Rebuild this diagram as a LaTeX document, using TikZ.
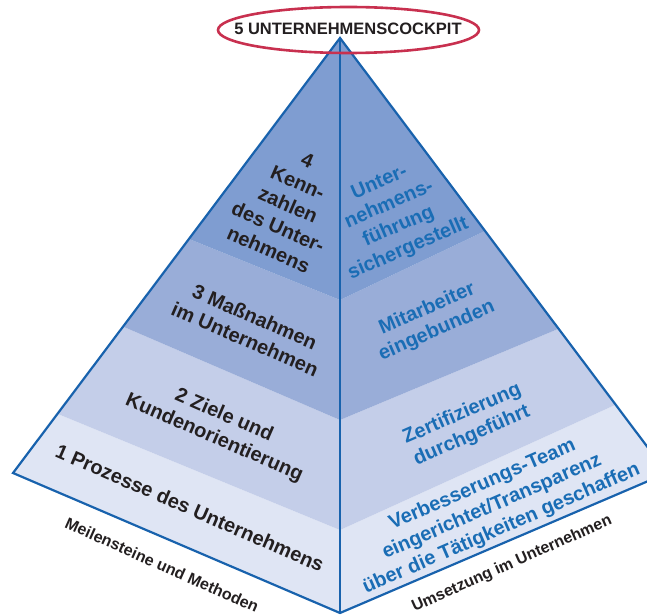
\documentclass[tikz,border=0pt]{standalone}
\usepackage{fontspec}
\setmainfont{Liberation Sans}
\definecolor{edgeblue}{HTML}{1862AD}
\definecolor{txtblue}{HTML}{1A6DB5}
\definecolor{txtdark}{HTML}{231F20}
\definecolor{bandA}{HTML}{DFE5F4}
\definecolor{bandB}{HTML}{C4CEE9}
\definecolor{bandC}{HTML}{99ADD8}
\definecolor{bandD}{HTML}{7F9DD1}
\definecolor{ringred}{HTML}{C8304F}
\begin{document}
\begin{tikzpicture}[x=1pt,y=-1pt,
  lefttxt/.style={text=txtdark,font=\bfseries\fontsize{20}{24.5}\selectfont,align=center,inner sep=0pt,rotate=-23.5},
  righttxt/.style={text=txtblue,font=\bfseries\fontsize{20}{24}\selectfont,align=center,inner sep=0pt,rotate=23.5},
  basetxt/.style={text=txtdark,font=\bfseries\fontsize{16}{19}\selectfont,inner sep=0pt},
  outline/.style={draw=edgeblue,line width=2.2pt,line join=miter}]
\useasboundingbox (0,0) rectangle (647,615);
\coordinate (A) at (340,38);
\coordinate (L) at (13,473);
\coordinate (R) at (667,473);
\coordinate (B) at (340,613);
\coordinate (C1) at (340,530);
\coordinate (C2) at (340,420);
\coordinate (C3) at (340,300);
\coordinate (L1) at (58,414);
\coordinate (L2) at (124,327);
\coordinate (L3) at (189,239);
\coordinate (R1) at (615,405);
\coordinate (R2) at (558,329);
\coordinate (R3) at (485,231);
\begin{scope}
\clip (0,0) rectangle (647,615);
\fill[bandA] (L) -- (B) -- (C1) -- (L1) -- cycle;
\fill[bandB] (L1) -- (C1) -- (C2) -- (L2) -- cycle;
\fill[bandC] (L2) -- (C2) -- (C3) -- (L3) -- cycle;
\fill[bandD] (L3) -- (C3) -- (A) -- cycle;
\fill[bandA] (R) -- (B) -- (C1) -- (R1) -- cycle;
\fill[bandB] (R1) -- (C1) -- (C2) -- (R2) -- cycle;
\fill[bandC] (R2) -- (C2) -- (C3) -- (R3) -- cycle;
\fill[bandD] (R3) -- (C3) -- (A) -- cycle;
\draw[outline] (A) -- (L) -- (B) -- (R) -- cycle;
\draw[outline] (A) -- (B);
\end{scope}
\node[lefttxt] (t1) at (190,508) {1 Prozesse des Unternehmens};
\node[lefttxt] (t2) at (219,427) {2 Ziele und\\Kundenorientierung};
\node[lefttxt] (t3) at (250,328) {3 Maßnahmen\\im Unternehmen};
\node[lefttxt] (t4) at (288,205) {4\\Kenn-\\zahlen\\des Unter-\\nehmens};
\node[righttxt] (r4) at (394,216) {Unter-\\nehmens-\\führung\\sichergestellt};
\node[righttxt] (r3) at (432,320) {Mitarbeiter\\eingebunden};
\node[righttxt] (r2) at (467,425) {Zertifizierung\\durchgeführt};
\node[righttxt] (r1) at (492,507) {Verbesserungs-Team\\eingerichtet/Transparenz\\über die Tätigkeiten geschaffen};
\node[basetxt,rotate=-24] (bl) at (162,565) {Meilensteine und Methoden};
\node[basetxt,rotate=24] (br) at (512,564) {Umsetzung im Unternehmen};
\node[text=txtdark,font=\bfseries\fontsize{16.5}{19}\selectfont,inner sep=0pt] (top) at (348,29) {5 UNTERNEHMENSCOCKPIT};
\draw[ringred,line width=2.6pt] (348.5,30) ellipse [x radius=130.5,y radius=23];
\end{tikzpicture}
\end{document}
